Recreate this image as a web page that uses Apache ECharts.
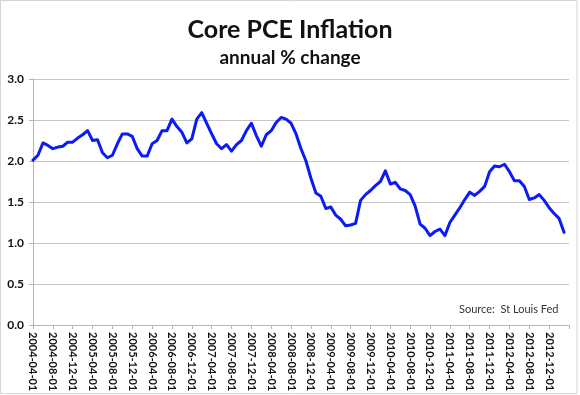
<!DOCTYPE html>
<html>
<head>
<meta charset="utf-8">
<script src="https://cdn.jsdelivr.net/npm/echarts@6/dist/echarts.min.js"></script>
<style>html,body{margin:0;padding:0;background:#fff;}#c{width:580px;height:395px;}</style>
</head>
<body>
<div id="c"></div>
<script>
// Monthly categories: 2004-04-01 ... 2013-04-01
var startYear = 2004, startMonth = 4, monthCount = 109;
var categories = [];
for (var i = 0; i < monthCount; i++) {
  var m = startMonth - 1 + i;
  var y = startYear + Math.floor(m / 12);
  var mm = (m % 12) + 1;
  categories.push(y + '-' + (mm < 10 ? '0' : '') + mm + '-01');
}
// Core PCE inflation, annual % change
var corePce = [
  2.01,2.07,2.22,2.19,2.15,2.17,2.18,2.23,2.23,2.28,
  2.32,2.37,2.25,2.26,2.10,2.04,2.07,2.21,2.33,2.33,
  2.30,2.15,2.06,2.06,2.21,2.25,2.37,2.37,2.51,2.42,
  2.35,2.22,2.27,2.51,2.59,2.46,2.33,2.21,2.15,2.20,
  2.12,2.20,2.25,2.37,2.46,2.31,2.18,2.32,2.37,2.47,
  2.53,2.51,2.46,2.33,2.15,2.00,1.79,1.61,1.57,1.42,
  1.44,1.34,1.29,1.21,1.22,1.24,1.52,1.59,1.64,1.70,
  1.75,1.88,1.72,1.74,1.66,1.64,1.59,1.45,1.23,1.18,
  1.09,1.14,1.17,1.09,1.25,1.34,1.43,1.53,1.62,1.58,
  1.63,1.69,1.87,1.94,1.93,1.96,1.87,1.76,1.76,1.69,
  1.53,1.55,1.59,1.52,1.43,1.36,1.30,1.13
];
var yTicks = ['0.0','0.5','1.0','1.5','2.0','2.5','3.0'];
var titleText = 'Core PCE Inflation';
var subtitleText = 'annual % change';
var sourceText = 'Source:  St Louis Fed';

var chart = echarts.init(document.getElementById('c'), null, {renderer: 'canvas'});
chart.setOption({
  animation: false,
  backgroundColor: '#ffffff',
  title: [{
    text: titleText,
    left: 'center',
    top: 12,
    textStyle: {fontFamily: 'Lato', fontWeight: 'bold', fontSize: 25, color: '#111'}
  }, {
    text: subtitleText,
    left: 'center',
    top: 43,
    textStyle: {fontFamily: 'Lato', fontWeight: 'bold', fontSize: 19, color: '#111'}
  }],
  graphic: [{
    type: 'rect',
    shape: {x: 0.5, y: 0.5, width: 576.5, height: 393},
    style: {fill: 'none', stroke: '#d4d4d4', lineWidth: 1},
    silent: true
  }, {
    type: 'text',
    left: 459,
    top: 304,
    style: {text: sourceText, fontFamily: 'Lato', fontSize: 11, fill: '#333'}
  }],
  grid: {left: 33, right: 11, top: 79, bottom: 70, containLabel: false},
  xAxis: {
    type: 'category',
    data: categories,
    boundaryGap: false,
    axisLine: {lineStyle: {color: '#b5b5b5', width: 1}},
    axisTick: {
      show: true, inside: false, length: 4,
      interval: function (idx) { return idx % 4 === 0; },
      lineStyle: {color: '#b5b5b5'}
    },
    axisLabel: {
      interval: function (idx) { return idx % 4 === 0 && idx <= 104; },
      rotate: -90,
      margin: 7,
      fontFamily: 'Lato', fontWeight: 'bold', fontSize: 11, color: '#111'
    },
    splitLine: {show: false}
  },
  yAxis: {
    type: 'value',
    min: 0, max: 3, interval: 0.5,
    axisLine: {show: true, lineStyle: {color: '#b5b5b5', width: 1}},
    axisTick: {show: true, length: 4, lineStyle: {color: '#b5b5b5'}},
    axisLabel: {
      formatter: function (v) { var s = v.toFixed(1); return yTicks.indexOf(s) >= 0 ? s : ''; },
      margin: 9,
      fontFamily: 'Lato', fontWeight: 'bold', fontSize: 12, color: '#111'
    },
    splitLine: {show: true, lineStyle: {color: '#c4c4c4', width: 1}}
  },
  series: [{
    type: 'line',
    data: corePce,
    symbol: 'none',
    smooth: false,
    lineStyle: {color: '#0a1bf5', width: 3, join: 'round', cap: 'round'}
  }]
});
</script>
</body>
</html>
